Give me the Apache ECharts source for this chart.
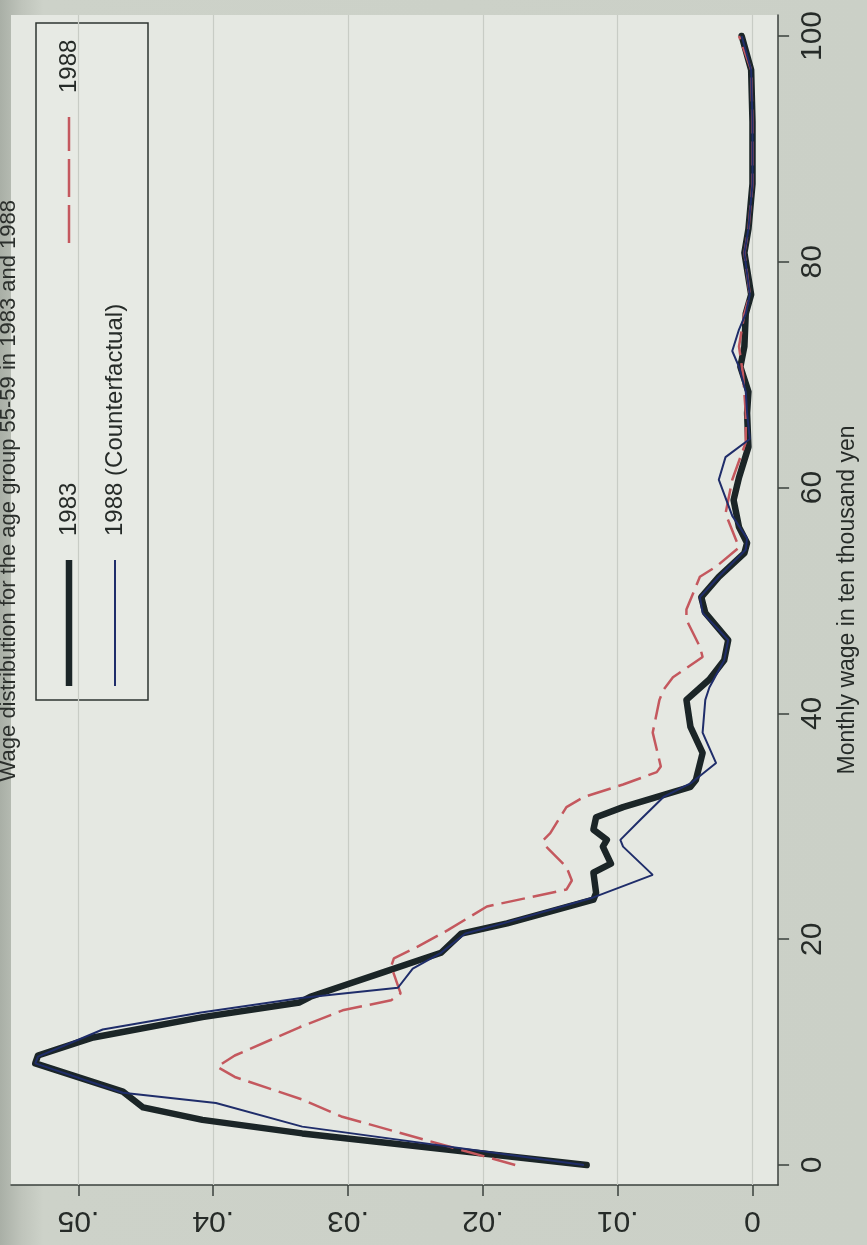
<!DOCTYPE html>
<html>
<head>
<meta charset="utf-8">
<script src="https://cdn.jsdelivr.net/npm/echarts@6/dist/echarts.min.js"></script>
<style>
  html, body { margin: 0; padding: 0; background: #cdd2c9; }
  #chart { width: 867px; height: 1245px; }
</style>
</head>
<body>
<div id="chart"></div>
<script>
  // tick values of the two axes
  var densTicks = [0, 0.01, 0.02, 0.03, 0.04, 0.05];
  var wageTicks = [0, 20, 40, 60, 80, 100];

  // 1983
  var wage1983 = [0, 2.8, 4.0, 5.1, 6.5, 9.0, 9.7, 11.3, 13.1, 14.4, 14.9, 17.1, 18.8, 20.5, 21.4, 23.5, 24.1, 25.9, 26.7, 28.2, 28.8, 29.7, 30.8, 31.7, 33.5, 34.1, 36.5, 38.8, 41.2, 43.0, 44.7, 46.5, 48.9, 50.3, 52.1, 54.2, 55.1, 56.5, 58.9, 60.9, 63.6, 66.6, 68.5, 70.7, 72.5, 75.4, 77.1, 80.8, 82.9, 86.9, 92.4, 97.0, 100];
  var dens1983 = [0.0123, 0.0334, 0.0408, 0.0452, 0.0467, 0.0532, 0.0530, 0.0489, 0.0408, 0.0336, 0.0328, 0.0273, 0.0231, 0.0216, 0.0182, 0.0118, 0.0116, 0.0118, 0.0105, 0.0111, 0.0108, 0.0118, 0.0116, 0.0096, 0.0046, 0.0042, 0.0037, 0.0046, 0.0049, 0.0032, 0.0021, 0.0018, 0.0035, 0.0038, 0.0025, 0.0006, 0.0004, 0.0010, 0.0014, 0.0010, 0.0003, 0.0004, 0.0003, 0.0009, 0.0006, 0.0005, 0.0001, 0.0006, 0.0003, 0.0000, 0.0000, 0.0001, 0.0008];

  // 1988 (Counterfactual)
  var wageCf = [0, 3.4, 5.5, 6.4, 9.0, 9.6, 12.0, 13.5, 14.8, 15.7, 17.4, 18.8, 20.5, 21.4, 23.7, 25.7, 28.2, 28.8, 30.6, 32.6, 33.8, 35.6, 38.3, 41.2, 42.3, 44.7, 46.5, 48.9, 50.3, 52.1, 54.5, 55.5, 57.5, 60.7, 62.7, 64.3, 66.6, 68.5, 70.7, 72.1, 74.0, 75.4, 77.1, 80.8, 82.9, 86.9, 92.4, 97.0, 100];
  var densCf = [0.0125, 0.0334, 0.0398, 0.0467, 0.0532, 0.0530, 0.0482, 0.0409, 0.0335, 0.0263, 0.0252, 0.0231, 0.0213, 0.0185, 0.0118, 0.0074, 0.0096, 0.0098, 0.0083, 0.0066, 0.0046, 0.0027, 0.0037, 0.0035, 0.0032, 0.0021, 0.0018, 0.0037, 0.0039, 0.0025, 0.0005, 0.0004, 0.0015, 0.0025, 0.0020, 0.0002, 0.0004, 0.0005, 0.0010, 0.0015, 0.0010, 0.0005, 0.0002, 0.0006, 0.0003, 0.0000, 0.0000, 0.0001, 0.0008];

  // 1988
  var wage1988 = [0, 4.3, 5.8, 7.8, 8.7, 9.7, 12.2, 13.7, 14.6, 15.2, 17.6, 18.3, 19.3, 20.8, 22.9, 24.4, 25.2, 26.4, 28.2, 28.8, 29.4, 31.7, 32.6, 33.7, 34.8, 35.3, 38.3, 41.2, 42.1, 43.2, 45.0, 45.9, 48.3, 49.2, 52.1, 53.0, 54.7, 57.7, 60.7, 64.0, 66.6, 70.0, 72.5, 75.4, 77.1, 80.8, 82.9, 86.9, 92.4, 97.0, 100];
  var dens1988 = [0.0176, 0.0305, 0.0334, 0.0384, 0.0397, 0.0384, 0.0336, 0.0304, 0.0268, 0.0261, 0.0268, 0.0266, 0.0249, 0.0226, 0.0197, 0.0138, 0.0134, 0.0138, 0.0153, 0.0155, 0.0150, 0.0138, 0.0125, 0.0096, 0.0071, 0.0068, 0.0074, 0.0069, 0.0066, 0.0059, 0.0037, 0.0039, 0.0049, 0.0049, 0.0039, 0.0027, 0.0010, 0.0020, 0.0015, 0.0005, 0.0005, 0.0007, 0.0010, 0.0006, 0.0002, 0.0006, 0.0003, 0.0000, 0.0000, 0.0001, 0.0010];

  var seriesNames = ['1983', '1988 (Counterfactual)', '1988'];
  var caption = 'Wage distribution for the age group 55-59 in 1983 and 1988';
  var axisTitle = 'Monthly wage in ten thousand yen';

  var FONT = '"Liberation Sans", Arial, sans-serif';
  var INK = '#262b28';

  function pairs(dens, wage) {
    return wage.map(function (w, i) { return [dens[i], w]; });
  }

  function densLabel(v) {
    if (v === 0) return '0';
    return '.' + String(Math.round(v * 100)).padStart(2, '0');
  }

  var myChart = echarts.init(document.getElementById('chart'), null, { renderer: 'canvas' });

  var option = {
    animation: false,
    backgroundColor: {
      type: 'linear', x: 0, y: 0, x2: 1, y2: 0,
      colorStops: [
        { offset: 0, color: '#a9afa6' },
        { offset: 0.025, color: '#bfc4bb' },
        { offset: 0.05, color: '#cdd2c9' },
        { offset: 1, color: '#cbd0c7' }
      ]
    },
    grid: {
      left: 11, right: 85, top: 15, bottom: 60,
      show: true,
      backgroundColor: '#e5e8e2',
      borderWidth: 0
    },
    xAxis: {
      type: 'value',
      inverse: true,
      min: -0.0019,
      max: 0.055,
      position: 'bottom',
      axisLine: { show: true, onZero: false, lineStyle: { color: '#3a403c', width: 1.5 } },
      axisTick: { show: true, customValues: densTicks, length: 11, lineStyle: { color: '#3a403c', width: 1.5 } },
      axisLabel: {
        customValues: densTicks,
        rotate: 180,
        margin: 20,
        fontSize: 30,
        fontFamily: FONT,
        color: INK,
        formatter: densLabel
      },
      splitLine: { show: false }
    },
    yAxis: {
      type: 'value',
      min: -1.77,
      max: 101.86,
      position: 'right',
      name: axisTitle,
      nameLocation: 'middle',
      nameRotate: 90,
      nameGap: 54,
      nameTextStyle: { fontSize: 23, fontFamily: FONT, color: INK },
      axisLine: { show: true, onZero: false, lineStyle: { color: '#3a403c', width: 1.5 } },
      axisTick: { show: true, customValues: wageTicks, length: 11, lineStyle: { color: '#3a403c', width: 1.5 } },
      axisLabel: {
        customValues: wageTicks,
        rotate: 90,
        margin: 20,
        fontSize: 30,
        fontFamily: FONT,
        color: INK
      },
      splitLine: { show: false }
    },
    series: [
      {
        name: seriesNames[0],
        type: 'line',
        data: pairs(dens1983, wage1983),
        showSymbol: false,
        z: 2,
        lineStyle: { color: '#1b2527', width: 6.5, cap: 'round', join: 'round' },
        markLine: {
          silent: true,
          z: 1,
          symbol: ['none', 'none'],
          label: { show: false },
          emphasis: { disabled: true },
          lineStyle: { color: '#c8ccc5', width: 1.2, type: 'solid' },
          data: densTicks.map(function (v) { return { xAxis: v }; })
        }
      },
      {
        name: seriesNames[2],
        type: 'line',
        data: pairs(dens1988, wage1988),
        showSymbol: false,
        z: 3,
        lineStyle: { color: '#c4585e', width: 2.5, type: [24, 8] }
      },
      {
        name: seriesNames[1],
        type: 'line',
        data: pairs(densCf, wageCf),
        showSymbol: false,
        z: 4,
        lineStyle: { color: '#1f2d6a', width: 2 }
      }
    ],
    graphic: [
      {
        // caption of the scanned page, running up the left edge
        type: 'text',
        x: 9, y: 200,
        rotation: Math.PI / 2,
        z: 20,
        style: {
          text: caption,
          fontSize: 22,
          fontFamily: FONT,
          fill: '#2b2f2c',
          align: 'right',
          verticalAlign: 'middle'
        }
      },
      {
        // legend, drawn in the chart's own (unrotated) orientation and turned
        type: 'group',
        x: 36, y: 700,
        rotation: Math.PI / 2,
        z: 20,
        children: [
          { type: 'rect', shape: { x: 0, y: 0, width: 677, height: 112 },
            style: { fill: '#e7eae4', stroke: '#2e3430', lineWidth: 1.5 } },
          { type: 'line', shape: { x1: 14, y1: 33, x2: 140, y2: 33 },
            style: { stroke: '#1b2527', lineWidth: 6.5 } },
          { type: 'text', x: 164, y: 33,
            style: { text: seriesNames[0], fontSize: 24, fontFamily: FONT, fill: INK, align: 'left', verticalAlign: 'middle' } },
          { type: 'line', shape: { x1: 457, y1: 33, x2: 583, y2: 33 },
            style: { stroke: '#c4585e', lineWidth: 2.5, lineDash: [38, 8] } },
          { type: 'text', x: 607, y: 33,
            style: { text: seriesNames[2], fontSize: 24, fontFamily: FONT, fill: INK, align: 'left', verticalAlign: 'middle' } },
          { type: 'line', shape: { x1: 14, y1: 79, x2: 140, y2: 79 },
            style: { stroke: '#1f2d6a', lineWidth: 2 } },
          { type: 'text', x: 164, y: 79,
            style: { text: seriesNames[1], fontSize: 24, fontFamily: FONT, fill: INK, align: 'left', verticalAlign: 'middle' } }
        ]
      }
    ]
  };

  myChart.setOption(option);
</script>
</body>
</html>
